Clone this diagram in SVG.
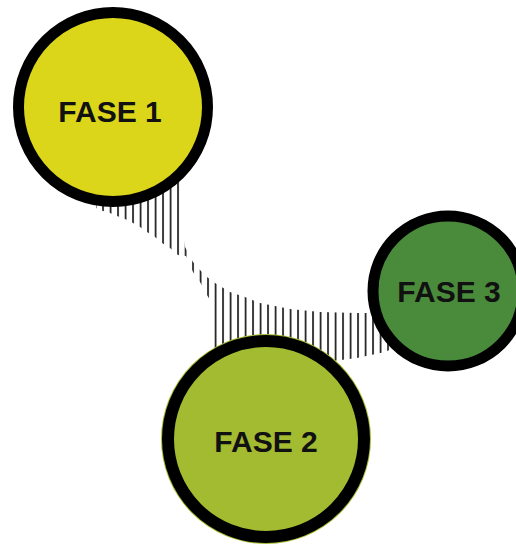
<svg xmlns="http://www.w3.org/2000/svg" width="516" height="544" viewBox="0 0 516 544">
  <defs>
    <pattern id="hatch" patternUnits="userSpaceOnUse" x="102.2" y="0" width="7.5" height="20">
      <rect x="0" y="0" width="1.7" height="20" fill="#1a1a1a"/>
    </pattern>
    <style>
      .ring { stroke: #000; }
      .label { font-family: "Liberation Sans", Arial, sans-serif; font-weight: bold; font-size: 30px; fill: #111; text-anchor: middle; }
    </style>
  </defs>
  <rect width="516" height="544" fill="#fff"/>
  <g id="connectors">
    <path fill="url(#hatch)" d="M96,150 L182,150 L182,185 L183,235 L185,247 L193,262 L200,270 L207,277 L215,283 L230,292 L245,297 L260,303 L275,306 L290,309 L320,312 L357,313 L400,313 L410,340 L400,345 L385,352 L357,358 L325,362 L215,362 L211,350 L210,300 L207,295 L200,282 L193,272 L186,256 L178,255 L170,248 L162,243 L155,237 L147,232 L140,227 L133,223 L125,219 L117,216 L110,213 L103,211 L96,208 Z"/>
  </g>
  <g id="fase1">
    <circle class="ring" cx="113" cy="107" r="94.5" fill="#dbd619" stroke-width="11"/>
    <text class="label" x="110" y="122">FASE 1</text>
  </g>
  <g id="fase2">
    <circle cx="266" cy="439" r="105" fill="#a3bb30"/>
    <circle class="ring" cx="266" cy="439" r="98" fill="#a3bb30" stroke-width="12"/>
    <text class="label" x="266" y="452">FASE 2</text>
  </g>
  <g id="fase3">
    <circle class="ring" cx="448" cy="291" r="75" fill="#4a8b3b" stroke-width="11"/>
    <text class="label" x="449" y="302">FASE 3</text>
  </g>
</svg>
